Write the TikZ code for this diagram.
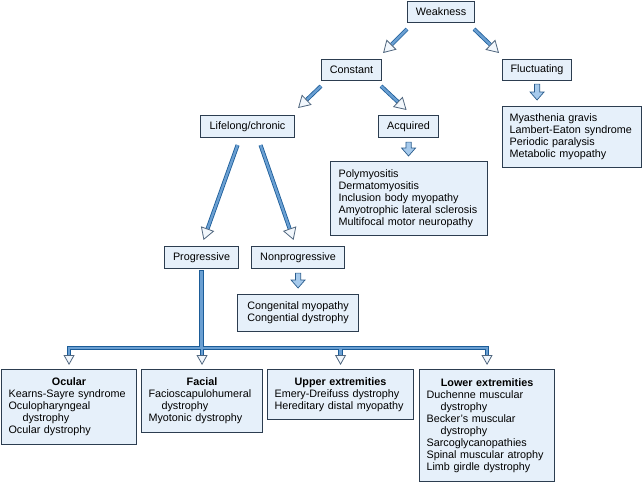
\documentclass[tikz,border=0pt]{standalone}
\usepackage{fontspec}
\setmainfont{Liberation Sans}
\usetikzlibrary{arrows.meta,calc}
\definecolor{boxfill}{HTML}{E6F0FA}
\definecolor{boxdraw}{HTML}{2C3D50}
\definecolor{arrdark}{HTML}{1B5C98}
\definecolor{arrmid}{HTML}{6A9FD2}
\definecolor{tipdraw}{HTML}{50667E}
\definecolor{tipfill}{HTML}{F2F7FC}
\definecolor{blkfill}{HTML}{A6CAEC}
\definecolor{blkdraw}{HTML}{2A5C8C}
\begin{document}
\begin{tikzpicture}[x=1pt,y=-1pt,
  every node/.style={font=\fontsize{10.8}{12}\selectfont},
  hbox/.style={draw=boxdraw, fill=boxfill, line width=1.1pt, inner sep=0pt, anchor=north west},
  lbox/.style={hbox, inner xsep=7pt, inner ysep=0pt, align=left},
  bigarr/.style={draw=arrdark, line width=0.8pt, double=arrmid, double distance=2.4pt,
     -{Triangle[open, fill=tipfill, color=tipdraw, length=12pt, width=14pt, line width=0.8pt]}},
  blk/.style={draw=blkdraw, fill=blkfill, line width=0.7pt, line join=miter,
     to path={let \p1=(\tikztostart), \p2=(\tikztotarget) in
       (\x1-2.6pt,\y1) -- (\x1-2.6pt,\y2+8pt) -- (\x1-7pt,\y2+8pt) -- (\x1,\y2)
       -- (\x1+7pt,\y2+8pt) -- (\x1+2.6pt,\y2+8pt) -- (\x1+2.6pt,\y1) -- cycle}},
  busdark/.style={draw=arrdark, line width=4.2pt, line cap=rect},
  buslight/.style={draw=arrmid, line width=2.6pt, line cap=rect},
  bustip/.style={draw=tipdraw, line width=0.6pt,
     -{Triangle[open, fill=tipfill, color=tipdraw, length=10pt, width=11pt, line width=0.8pt]}}
]
\useasboundingbox (0,0) rectangle (642,487);

% upper boxes
\node[hbox, minimum width=67pt, minimum height=21pt] (weak) at (407,1) {Weakness};
\node[hbox, minimum width=60pt, minimum height=21pt] (const) at (321,59) {Constant};
\node[hbox, minimum width=69pt, minimum height=21pt] (fluct) at (502,59) {Fluctuating};
\node[hbox, minimum width=94pt, minimum height=22pt] (life) at (200,115) {Lifelong/chronic};
\node[hbox, minimum width=60pt, minimum height=22pt] (acq) at (378,115) {Acquired};
\node[lbox, text width=125pt, minimum height=61pt] (fluctlist) at (502,106)
  {Myasthenia gravis\\Lambert-Eaton syndrome\\Periodic paralysis\\Metabolic myopathy};
\node[lbox, inner xsep=8pt, text width=141pt, minimum height=74pt] (acqlist) at (330,161)
  {Polymyositis\\Dermatomyositis\\Inclusion body myopathy\\Amyotrophic lateral sclerosis\\Multifocal motor neuropathy};
\node[hbox, minimum width=74pt, minimum height=22pt] (prog) at (164,246) {Progressive};
\node[hbox, minimum width=93pt, minimum height=22pt] (nonprog) at (251,246) {Nonprogressive};
\node[hbox, align=left, minimum width=121pt, minimum height=37pt] (cong) at (237,294)
  {Congenital myopathy\\Congential dystrophy};

% bottom boxes
\node[lbox, text width=121pt, minimum height=75pt] (ocular) at (1,369)
  {\makebox[\linewidth]{\bfseries Ocular}\\Kearns-Sayre syndrome\\Oculopharyngeal\\\hspace*{14pt}dystrophy\\Ocular dystrophy};
\node[lbox, text width=107pt, minimum height=63pt] (facial) at (141,369)
  {\makebox[\linewidth]{\bfseries Facial}\\Facioscapulohumeral\\\hspace*{13pt}dystrophy\\Myotonic dystrophy};
\node[lbox, text width=132pt, minimum height=50pt] (upper) at (267,369)
  {\makebox[\linewidth]{\bfseries Upper extremities}\\Emery-Dreifuss dystrophy\\Hereditary distal myopathy};
\node[lbox, text width=121pt, minimum height=112pt] (lower) at (419,369)
  {\makebox[\linewidth]{\bfseries Lower extremities}\\Duchenne muscular\\\hspace*{14pt}dystrophy\\Becker's muscular\\\hspace*{14pt}dystrophy\\Sarcoglycanopathies\\Spinal muscular atrophy\\Limb girdle dystrophy};

% diagonal arrows
\draw[bigarr] ([shift={(0,6)}]weak.south west) -- ([shift={(1,-6)}]const.north east);
\draw[bigarr] ([shift={(-1,6)}]weak.south east) -- ([shift={(-3,-6)}]fluct.north west);
\draw[bigarr] ([shift={(0,5)}]const.south west) -- ([shift={(3,-7)}]life.north east);
\draw[bigarr] ([shift={(-1,5)}]const.south east) -- ([shift={(-2,-5)}]acq.north);
\draw[bigarr] ([shift={(-10,7)}]life.south) -- ([shift={(2,-6)}]prog.north);
\draw[bigarr] ([shift={(13,7)}]life.south) -- ([shift={(-4.5,-6)}]nonprog.north);

% block arrows
\draw[blk] ([shift={(0,3)}]fluct.south) to ([shift={(0,-6)}]fluctlist.north);
\draw[blk] ([shift={(0,4)}]acq.south) to ([shift={(0,-5)}]acqlist.north);
\draw[blk] ([shift={(0,4)}]nonprog.south) to ([shift={(0,-6)}]cong.north);

% bus
\coordinate (bus) at (0,348);
\foreach \st in {busdark, buslight}{
  \draw[\st] ([shift={(0,3)}]prog.south) -- (prog.south |- bus)
    (ocular.north |- bus) -- (lower.north |- bus)
    (ocular.north |- bus) -- ([shift={(0,-13)}]ocular.north)
    (facial.north |- bus) -- ([shift={(0,-13)}]facial.north)
    (upper.north |- bus) -- ([shift={(0,-13)}]upper.north)
    (lower.north |- bus) -- ([shift={(0,-13)}]lower.north);
}
\foreach \b in {ocular, facial, upper, lower}{
  \draw[bustip] ([shift={(0,-14)}]\b.north) -- ([shift={(0,-4)}]\b.north);
}
\end{tikzpicture}
\end{document}
